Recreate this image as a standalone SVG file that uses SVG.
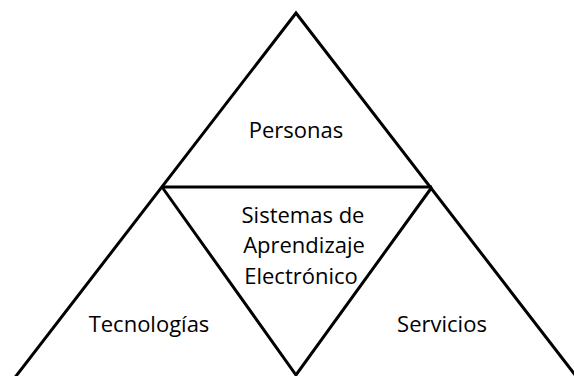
<svg xmlns="http://www.w3.org/2000/svg" width="574" height="376" viewBox="0 0 574 376">
<style>
.l{fill:none;stroke:#000;stroke-width:3;stroke-linejoin:miter}
.t{font-family:"Open Sans","Noto Sans",sans-serif;font-size:22px;fill:#000;text-anchor:middle}
</style>
<rect width="574" height="376" fill="#fff"/>
<g id="connectors">
<polyline class="l" points="13,380 296,13 579,380"/>
<line class="l" x1="162" y1="187" x2="432" y2="187"/>
<polyline class="l" points="162,187 296,375 432,187"/>
</g>
<g id="personas"><text class="t" x="296" y="138">Personas</text></g>
<g id="sistemas">
<text class="t" x="303" y="223">Sistemas de</text>
<text class="t" x="304" y="253">Aprendizaje</text>
<text class="t" x="301" y="284">Electrónico</text>
</g>
<g id="tecnologias"><text class="t" x="149" y="332">Tecnologías</text></g>
<g id="servicios"><text class="t" x="442" y="332">Servicios</text></g>
</svg>
